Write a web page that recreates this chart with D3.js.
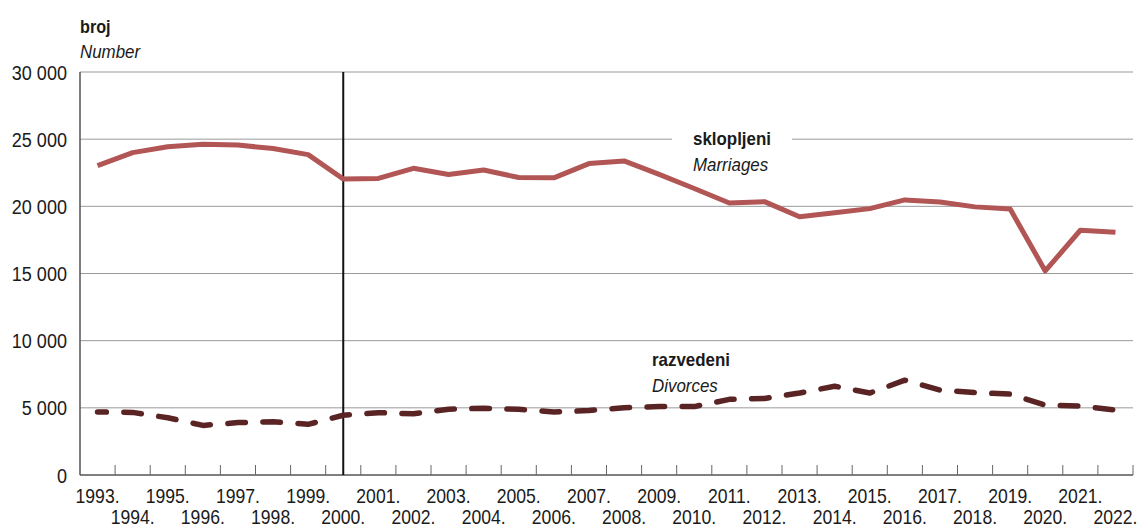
<!DOCTYPE html>
<html>
<head>
<meta charset="utf-8">
<script src="https://cdn.jsdelivr.net/npm/d3@7"></script>
<style>
  html, body { margin: 0; padding: 0; background: #fff; }
  svg text { font-family: "Liberation Sans", Arial, sans-serif; fill: #1a1a1a; }
</style>
</head>
<body>
<div id="chart"></div>
<script>
// data
const years = d3.range(1993, 2023);
const marriages = [23030, 24000, 24440, 24620, 24560, 24300, 23850, 22030, 22080, 22830,
  22370, 22700, 22150, 22120, 23180, 23380, 22380, 21330, 20250, 20350,
  19220, 19520, 19830, 20480, 20330, 19960, 19800, 15190, 18220, 18070];
const divorces = [4690, 4660, 4260, 3690, 3900, 3960, 3770, 4450, 4640, 4560,
  4900, 4970, 4890, 4690, 4800, 5010, 5100, 5090, 5630, 5700,
  6100, 6610, 6100, 7060, 6320, 6140, 6020, 5200, 5130, 4840];
const yTicks = [0, 5000, 10000, 15000, 20000, 25000, 30000];
const markYear = 2000;

const config = {
  width: 1140,
  height: 529,
  margin: {top: 72, right: 7, bottom: 54, left: 80}
};
const innerW = config.width - config.margin.left - config.margin.right;
const innerH = config.height - config.margin.top - config.margin.bottom;

const svg = d3.select('#chart').append('svg')
  .attr('width', config.width)
  .attr('height', config.height);

const g = svg.append('g')
  .attr('transform', `translate(${config.margin.left},${config.margin.top})`);

const xScale = d3.scaleBand().domain(years).range([0, innerW]);
const yScale = d3.scaleLinear().domain([0, 30000]).range([innerH, 0]);
const xc = d => xScale(d) + xScale.bandwidth() / 2;

const fmt = v => d3.format(',')(v).replace(',', ' ');
// squeeze Liberation Sans horizontally so it reads like the condensed face of the original
const squeeze = (x, y, k) => `translate(${x},${y}) scale(${k},1)`;

// gridlines
g.append('g')
  .selectAll('line')
  .data(yTicks.filter(d => d > 0))
  .join('line')
  .attr('x1', 0).attr('x2', innerW)
  .attr('y1', d => yScale(d)).attr('y2', d => yScale(d))
  .attr('stroke', '#9a9a9a')
  .attr('stroke-width', 1);

// y labels
g.append('g')
  .selectAll('text')
  .data(yTicks)
  .join('text')
  .attr('transform', d => squeeze(-13, yScale(d), 0.86))
  .attr('dy', '0.36em')
  .attr('text-anchor', 'end')
  .style('font-size', '21px')
  .text(fmt);

// axis lines + ticks at band boundaries
g.append('line')
  .attr('x1', 0).attr('x2', innerW)
  .attr('y1', innerH).attr('y2', innerH)
  .attr('stroke', '#555').attr('stroke-width', 1.5);
g.append('line')
  .attr('x1', 0).attr('x2', 0)
  .attr('y1', 0).attr('y2', innerH)
  .attr('stroke', '#555').attr('stroke-width', 1.5);
g.append('g')
  .selectAll('line')
  .data(years.slice(1).concat(['end']))
  .join('line')
  .attr('x1', d => d === 'end' ? innerW : xScale(d))
  .attr('x2', d => d === 'end' ? innerW : xScale(d))
  .attr('y1', innerH).attr('y2', innerH - 10)
  .attr('stroke', '#666').attr('stroke-width', 1);

// x labels, alternating rows
g.append('g')
  .selectAll('text')
  .data(years)
  .join('text')
  .attr('transform', (d, i) => squeeze(xc(d), innerH + (i % 2 === 0 ? 28 : 49), 0.88))
  .attr('text-anchor', 'middle')
  .style('font-size', '20px')
  .text(d => `${d}.`);

// vertical marker at 2000
g.append('line')
  .attr('x1', xc(markYear)).attr('x2', xc(markYear))
  .attr('y1', 0).attr('y2', innerH)
  .attr('stroke', '#111').attr('stroke-width', 2);

// title
svg.append('text')
  .attr('transform', squeeze(80, 33, 0.9))
  .style('font-size', '18px').style('font-weight', 'bold')
  .text('broj');
svg.append('text')
  .attr('transform', squeeze(80, 58, 0.94))
  .style('font-size', '18px').style('font-style', 'italic')
  .text('Number');

// lines
const line = d3.line()
  .x((d, i) => xc(years[i]))
  .y(d => yScale(d));

g.append('path')
  .datum(marriages)
  .attr('d', line)
  .attr('fill', 'none')
  .attr('stroke', '#b25555')
  .attr('stroke-width', 5)
  .attr('stroke-linejoin', 'round');

const step = xScale.step();
g.append('path')
  .datum(divorces)
  .attr('d', line)
  .attr('fill', 'none')
  .attr('stroke', '#5a2424')
  .attr('stroke-width', 5.5)
  .attr('stroke-linecap', 'round')
  .attr('stroke-linejoin', 'round')
  .attr('stroke-dasharray', `${step * 0.5} ${step * 0.5}`)
  .attr('stroke-dashoffset', step * 0.25);

// series labels
function seriesLabel(x, y, bold, italic, clearBg) {
  const lg = g.append('g').attr('transform', `translate(${x},${y})`);
  if (clearBg) {
    lg.append('rect')
      .attr('x', -21).attr('y', -20)
      .attr('width', 120).attr('height', 30)
      .attr('fill', '#fff');
  }
  lg.append('text')
    .attr('transform', squeeze(0, 0, 0.94))
    .style('font-size', '18px').style('font-weight', 'bold')
    .text(bold);
  lg.append('text')
    .attr('transform', squeeze(0, 25.5, 0.94))
    .style('font-size', '18px').style('font-style', 'italic')
    .text(italic);
}
seriesLabel(613, 73, 'sklopljeni', 'Marriages', true);
seriesLabel(572, 294, 'razvedeni', 'Divorces', false);
</script>
</body>
</html>
